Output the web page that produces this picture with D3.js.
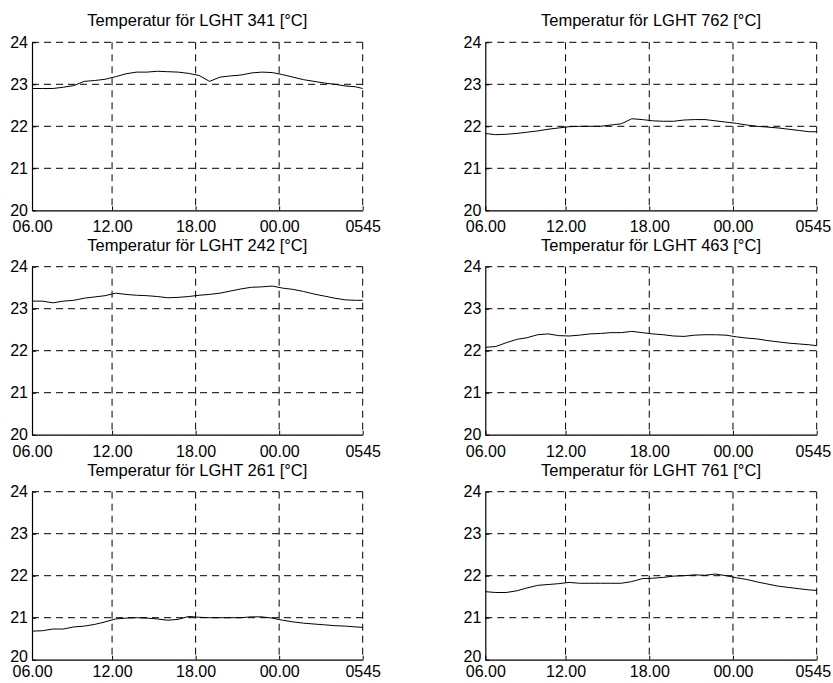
<!DOCTYPE html>
<html>
<head>
<meta charset="utf-8">
<script src="https://cdn.jsdelivr.net/npm/d3@7"></script>
<style>
  body { margin: 0; background: #fff; }
  svg { display: block; font-family: "Liberation Sans", Arial, sans-serif; }
</style>
</head>
<body>
<div id="chart"></div>
<script>

// sample index (15 min steps, 1 = 06.00, 96 = 05.45)
var sampleIdx = [1, 4, 7, 10, 13, 16, 19, 22, 25, 28, 31, 34, 37, 40, 43, 46, 49,
  52, 55, 58, 61, 64, 67, 70, 73, 76, 79, 82, 85, 88, 91, 94, 96];

var temp341 = [22.90, 22.90, 22.90, 22.93, 22.97, 23.07, 23.09, 23.12, 23.18, 23.25, 23.29, 23.29, 23.31, 23.30, 23.29, 23.26, 23.21,
  23.07, 23.17, 23.20, 23.22, 23.27, 23.29, 23.28, 23.23, 23.17, 23.11, 23.07, 23.03, 23.00, 22.96, 22.94, 22.90];
var temp762 = [21.83, 21.80, 21.81, 21.83, 21.86, 21.89, 21.93, 21.96, 21.99, 22.00, 22.00, 22.00, 22.03, 22.06, 22.18, 22.16, 22.13,
  22.12, 22.12, 22.15, 22.16, 22.16, 22.13, 22.10, 22.07, 22.03, 22.00, 21.98, 21.96, 21.93, 21.90, 21.87, 21.87];
var temp242 = [23.18, 23.18, 23.14, 23.18, 23.20, 23.25, 23.28, 23.31, 23.37, 23.34, 23.32, 23.31, 23.29, 23.26, 23.27, 23.29, 23.32,
  23.34, 23.37, 23.42, 23.47, 23.51, 23.52, 23.54, 23.49, 23.46, 23.41, 23.35, 23.30, 23.25, 23.21, 23.20, 23.20];
var temp463 = [22.08, 22.10, 22.19, 22.27, 22.31, 22.38, 22.40, 22.36, 22.35, 22.37, 22.40, 22.41, 22.43, 22.43, 22.46, 22.43, 22.40,
  22.38, 22.35, 22.34, 22.37, 22.38, 22.38, 22.37, 22.33, 22.30, 22.28, 22.24, 22.21, 22.18, 22.16, 22.14, 22.12];
var temp261 = [20.68, 20.69, 20.73, 20.73, 20.78, 20.80, 20.84, 20.90, 20.97, 20.99, 21.00, 20.99, 20.97, 20.94, 20.96, 21.03, 21.01,
  21.00, 21.00, 21.00, 21.00, 21.02, 21.02, 20.99, 20.94, 20.90, 20.87, 20.85, 20.83, 20.81, 20.80, 20.78, 20.77];
var temp761 = [21.62, 21.60, 21.60, 21.64, 21.71, 21.77, 21.79, 21.81, 21.84, 21.82, 21.82, 21.82, 21.82, 21.82, 21.86, 21.93, 21.94,
  21.96, 21.99, 22.00, 22.02, 22.01, 22.04, 22.00, 21.95, 21.91, 21.85, 21.80, 21.75, 21.72, 21.69, 21.66, 21.65];

var sensorNames = ["341", "762", "242", "463", "261", "761"];
var yTicks = [20, 21, 22, 23, 24];
var xTickIdx = [1, 24, 48, 72, 96];
var xTickLabels = ["06.00", "12.00", "18.00", "00.00", "0545"];

var seriesList = [temp341, temp762, temp242, temp463, temp261, temp761];

var svgWidth = 833, svgHeight = 683;

var svg = d3.select("#chart")
  .append("svg")
  .attr("width", svgWidth)
  .attr("height", svgHeight);

// panel placement
var colLeft = [32, 485.3];
var colWidth = [330.7, 331.4];
var rowTop = [42.3, 266.7, 491.7];
var plotHeight = 168;
var labelOffset = [22, 22, 17.5];   // bottom row labels sit tighter

seriesList.forEach(function(values, k) {
  var col = k % 2, row = Math.floor(k / 2);
  var width = colWidth[col];

  var g = svg.append("g")
    .attr("transform", `translate(${colLeft[col]}, ${rowTop[row]})`);

  var xScale = d3.scaleLinear().domain([1, 96]).range([0, width]);
  var yScale = d3.scaleLinear().domain([20, 24]).range([plotHeight, 0]);

  // dashed grid
  g.selectAll(".hgrid")
    .data(yTicks.filter(d => d > 20))
    .enter()
    .append("line")
    .attr("x1", 0).attr("x2", width)
    .attr("y1", d => yScale(d)).attr("y2", d => yScale(d))
    .attr("stroke", "#000")
    .attr("stroke-width", 1)
    .attr("stroke-dasharray", "7,5");

  g.selectAll(".vgrid")
    .data(xTickIdx.slice(1))
    .enter()
    .append("line")
    .attr("x1", d => xScale(d)).attr("x2", d => xScale(d))
    .attr("y1", 0).attr("y2", plotHeight)
    .attr("stroke", "#000")
    .attr("stroke-width", 1)
    .attr("stroke-dasharray", "7,5");

  // axes, ticks pointing inwards
  var leftAxis = d3.axisLeft(yScale)
    .tickValues(yTicks)
    .tickSize(-4)
    .tickSizeOuter(0)
    .tickPadding(4)
    .tickFormat(d3.format("d"));

  var bottomAxis = d3.axisBottom(xScale)
    .tickValues(xTickIdx)
    .tickSize(-4)
    .tickSizeOuter(0)
    .tickPadding(0)
    .tickFormat((d, i) => xTickLabels[i]);

  var yAxisG = g.append("g").call(leftAxis);
  var xAxisG = g.append("g")
    .attr("transform", `translate(0, ${plotHeight})`)
    .call(bottomAxis);

  [yAxisG, xAxisG].forEach(function(a) {
    a.select(".domain").attr("stroke", "#000").attr("stroke-width", 1.2);
    a.selectAll(".tick line").attr("stroke", "#000");
    a.selectAll(".tick text")
      .attr("fill", "#000")
      .style("font-size", "16px")
      .style("font-family", "Liberation Sans, Arial, sans-serif");
  });

  xAxisG.selectAll(".tick text")
    .attr("dy", null)
    .attr("y", labelOffset[row]);

  // last time label of the right column is pulled in so it fits the page
  if (col === 1) {
    xAxisG.selectAll(".tick text").filter(d => d === 96)
      .attr("text-anchor", "end")
      .attr("x", 14);
  }

  // lowest y label sits just above the time labels
  if (row === 2) {
    yAxisG.selectAll(".tick text").filter(d => d === 20).attr("dy", "0.1em");
  }

  // temperature line
  var line = d3.line()
    .x((d, i) => xScale(sampleIdx[i]))
    .y(d => yScale(d));

  g.append("path")
    .datum(values)
    .attr("d", line)
    .attr("fill", "none")
    .attr("stroke", "#000")
    .attr("stroke-width", 1);

  // title
  g.append("text")
    .attr("x", width / 2)
    .attr("y", -16)
    .attr("text-anchor", "middle")
    .style("font-size", "16.5px")
    .text("Temperatur för LGHT " + sensorNames[k] + " [°C]");
});

</script>
</body>
</html>
